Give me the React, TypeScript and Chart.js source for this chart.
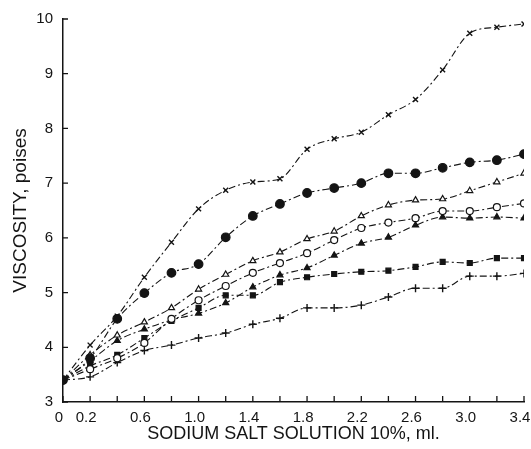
import React, { useEffect, useRef } from 'react';
import { Chart, registerables } from 'chart.js';

Chart.register(...registerables);

// Sodium salt solution added (ml), one reading every 0.2 ml
const xValues = [0, 0.2, 0.4, 0.6, 0.8, 1.0, 1.2, 1.4, 1.6, 1.8, 2.0, 2.2, 2.4, 2.6, 2.8, 3.0, 3.2, 3.4];
const xTickLabels = ['0', '0.2', '0.6', '1.0', '1.4', '1.8', '2.2', '2.6', '3.0', '3.4'];
const yTickValues = [3, 4, 5, 6, 7, 8, 9, 10];

// Viscosity (poises) per series
const crossSeries = [3.4, 4.04, 4.57, 5.28, 5.92, 6.53, 6.87, 7.02, 7.08, 7.62, 7.81, 7.93, 8.25, 8.53, 9.07, 9.74, 9.85, 9.91];
const filledCircleSeries = [3.4, 3.8, 4.52, 4.99, 5.36, 5.52, 6.01, 6.4, 6.62, 6.82, 6.91, 7.0, 7.18, 7.18, 7.28, 7.38, 7.42, 7.53];
const openTriangleSeries = [3.4, 3.86, 4.22, 4.46, 4.72, 5.06, 5.33, 5.58, 5.74, 5.98, 6.12, 6.4, 6.6, 6.69, 6.71, 6.86, 7.02, 7.18];
const openCircleSeries = [3.4, 3.6, 3.8, 4.08, 4.52, 4.86, 5.12, 5.36, 5.54, 5.72, 5.96, 6.18, 6.28, 6.36, 6.49, 6.49, 6.56, 6.63];
const filledTriangleSeries = [3.4, 3.75, 4.12, 4.33, 4.5, 4.62, 4.81, 5.1, 5.32, 5.45, 5.68, 5.9, 6.01, 6.23, 6.38, 6.36, 6.38, 6.36];
const filledSquareSeries = [3.4, 3.66, 3.86, 4.17, 4.48, 4.72, 4.95, 4.95, 5.19, 5.28, 5.34, 5.38, 5.4, 5.47, 5.56, 5.54, 5.63, 5.63];
const plusSeries = [3.4, 3.46, 3.72, 3.94, 4.04, 4.17, 4.26, 4.42, 4.53, 4.72, 4.72, 4.77, 4.92, 5.08, 5.08, 5.3, 5.3, 5.35];

const FONT = '"Liberation Sans", Arial, Helvetica, sans-serif';
const INK = '#141414';

const toPoints = (ys: number[]) => xValues.map((x, i) => ({ x, y: ys[i] }));

const inwardTicks = {
  id: 'inwardTicks',
  afterDraw(chart: any) {
    const { ctx, chartArea, scales } = chart;
    ctx.save();
    ctx.strokeStyle = INK;
    ctx.lineWidth = 1.3;
    ctx.beginPath();
    yTickValues.forEach((v) => {
      const y = scales.y.getPixelForValue(v);
      ctx.moveTo(chartArea.left, y);
      ctx.lineTo(chartArea.left + 5, y);
    });
    xValues.forEach((v) => {
      const x = scales.x.getPixelForValue(v);
      ctx.moveTo(x, chartArea.bottom);
      ctx.lineTo(x, chartArea.bottom - 6);
    });
    ctx.stroke();
    ctx.restore();
  },
};

export default function App() {
  const canvasRef = useRef<HTMLCanvasElement | null>(null);

  useEffect(() => {
    document.body.style.margin = '0';
    const canvas = canvasRef.current;
    if (!canvas) return;

    const lineBase = {
      showLine: true,
      borderColor: INK,
      borderWidth: 1.1,
      borderDash: [7, 3, 2, 3],
      tension: 0.4,
      cubicInterpolationMode: 'monotone' as const,
      pointBorderColor: INK,
      pointBorderWidth: 1.2,
    };

    const chart = new Chart(canvas, {
      type: 'scatter',
      data: {
        datasets: [
          { ...lineBase, label: 'x', data: toPoints(crossSeries), pointStyle: 'crossRot', pointRadius: 3.5, pointBackgroundColor: INK, pointBorderWidth: 1.4 },
          { ...lineBase, label: 'filled circle', order: -1, data: toPoints(filledCircleSeries), pointStyle: 'circle', pointRadius: 4.3, pointBackgroundColor: INK },
          { ...lineBase, label: 'open triangle', data: toPoints(openTriangleSeries), pointStyle: 'triangle', pointRadius: 3.5, pointBackgroundColor: '#ffffff' },
          { ...lineBase, label: 'open circle', data: toPoints(openCircleSeries), pointStyle: 'circle', pointRadius: 3.5, pointBackgroundColor: '#ffffff' },
          { ...lineBase, label: 'filled triangle', data: toPoints(filledTriangleSeries), pointStyle: 'triangle', pointRadius: 3.5, pointBackgroundColor: INK },
          { ...lineBase, label: 'filled square', data: toPoints(filledSquareSeries), pointStyle: 'rect', pointRadius: 3.5, pointBackgroundColor: INK },
          { ...lineBase, label: '+', data: toPoints(plusSeries), pointStyle: 'cross', pointRadius: 4, pointBackgroundColor: INK, pointBorderWidth: 1.4 },
        ],
      },
      options: {
        animation: false,
        responsive: false,
        layout: { padding: { top: 19, right: 7, bottom: 0, left: 0 } },
        plugins: {
          legend: { display: false },
          tooltip: { enabled: false },
        },
        scales: {
          x: {
            type: 'linear',
            min: 0,
            max: 3.4,
            grid: { display: false, drawTicks: false },
            border: { display: true, color: INK, width: 1.5 },
            ticks: {
              stepSize: 0.2,
              autoSkip: false,
              maxRotation: 0,
              padding: 7,
              labelOffset: -4,
              color: INK,
              font: { family: FONT, size: 15 },
              callback: (value: any) => {
                const v = Number(value);
                const s = Math.abs(v) < 1e-9 ? '0' : v.toFixed(1);
                return xTickLabels.includes(s) ? s : '';
              },
            },
            title: {
              display: true,
              text: 'SODIUM SALT SOLUTION 10%, ml.',
              color: INK,
              font: { family: FONT, size: 18 },
              padding: { top: 2, bottom: 4 },
            },
            afterFit: (scale: any) => {
              scale.height = 47;
              scale.paddingRight = 0;
              scale.paddingLeft = 0;
            },
          },
          y: {
            type: 'linear',
            min: 3,
            max: 10,
            grid: { display: false, drawTicks: false },
            border: { display: true, color: INK, width: 1.5 },
            ticks: {
              stepSize: 1,
              padding: 10,
              color: INK,
              font: { family: FONT, size: 15 },
            },
            title: {
              display: true,
              text: 'VISCOSITY, poises',
              color: INK,
              font: { family: FONT, size: 19 },
              padding: { top: 9, bottom: 0 },
            },
            afterFit: (scale: any) => {
              scale.width = 63;
            },
          },
        },
      },
      plugins: [inwardTicks],
    });

    return () => chart.destroy();
  }, []);

  return (
    <div style={{ width: 531, height: 449 }}>
      <canvas ref={canvasRef} width={531} height={449} />
    </div>
  );
}
